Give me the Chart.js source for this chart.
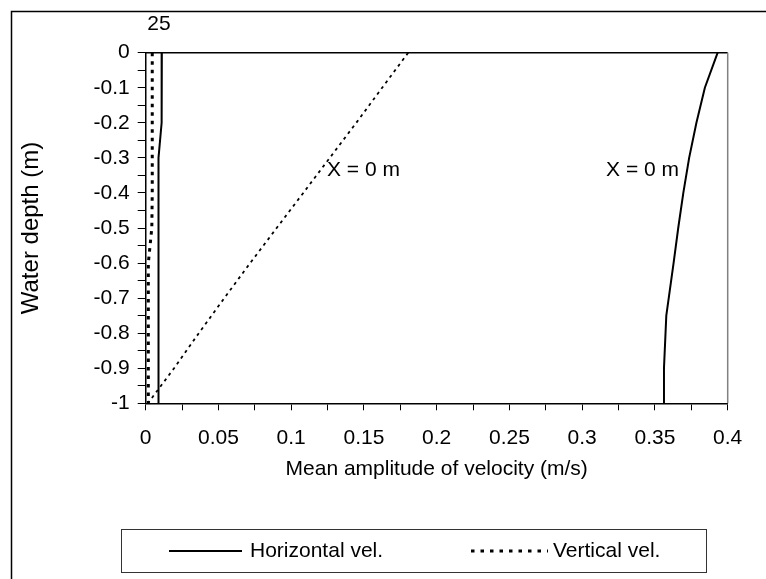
<!DOCTYPE html>
<html>
<head>
<meta charset="utf-8">
<script src="https://cdn.jsdelivr.net/npm/chart.js@4.4.1/dist/chart.umd.min.js"></script>
<style>
  html, body { margin: 0; padding: 0; background: #fff; }
</style>
</head>
<body>
<canvas id="chart" width="766" height="579"></canvas>
<script>
// depth grid (m) and mean amplitudes (m/s)
const depths = [0, -0.1, -0.2, -0.3, -0.4, -0.5, -0.6, -0.7, -0.8, -0.9, -1];
const horiz25 = [0.0111, 0.0111, 0.0108, 0.0088, 0.0088, 0.0088, 0.0088, 0.0088, 0.0088, 0.0088, 0.0088];
const vert25 = [0.0045, 0.0045, 0.0045, 0.0045, 0.0045, 0.0042, 0.0018, 0.0018, 0.0018, 0.0018, 0.0018];
const vert0 = [0.1804, 0.1625, 0.1447, 0.1265, 0.1083, 0.0900, 0.0718, 0.0540, 0.0365, 0.0195, 0.0015];
const depthsH0 = [0, -0.1, -0.2, -0.3, -0.4, -0.5, -0.6, -0.75, -0.9, -1];
const horiz0 = [0.3931, 0.3843, 0.3785, 0.3735, 0.3695, 0.3660, 0.3628, 0.3578, 0.3562, 0.3562];

const xTickLabels = ['0', '0.05', '0.1', '0.15', '0.2', '0.25', '0.3', '0.35', '0.4'];
const yTickLabels = ['-1', '-0.9', '-0.8', '-0.7', '-0.6', '-0.5', '-0.4', '-0.3', '-0.2', '-0.1', '0'];
const legendLabels = ['Horizontal vel.', 'Vertical vel.'];
const notes = [
  { text: 'X = 0 m', x: 0.1246, y: -0.335, align: 'left' },
  { text: 'X = 0 m', x: 0.3164, y: -0.335, align: 'left' },
  { text: '25', x: 0.0091, y: 0.082, align: 'center' }
];

const FONT = 'Liberation Sans, Arial, sans-serif';
const FS = 21;
const pts = (xs, ds) => xs.map((v, i) => ({ x: v, y: ds[i] }));

const extras = {
  id: 'extras',
  afterDraw(chart) {
    const ctx = chart.ctx;
    const a = chart.chartArea;
    const sx = chart.scales.x, sy = chart.scales.y;
    ctx.save();
    // outer frame
    ctx.strokeStyle = '#000';
    ctx.lineWidth = 1.5;
    ctx.beginPath();
    ctx.moveTo(11.5, 579);
    ctx.lineTo(11.5, 11.5);
    ctx.lineTo(766, 11.5);
    ctx.stroke();
    // plot area top and right edges
    ctx.lineWidth = 1.5;
    ctx.beginPath();
    ctx.moveTo(a.left, a.top);
    ctx.lineTo(a.right, a.top);
    ctx.stroke();
    ctx.strokeStyle = '#808080';
    ctx.beginPath();
    ctx.moveTo(a.right, a.top);
    ctx.lineTo(a.right, a.bottom);
    ctx.stroke();

    // text labels
    ctx.fillStyle = '#000';
    ctx.font = FS + 'px ' + FONT;
    ctx.textBaseline = 'middle';
    notes.forEach(n => {
      ctx.textAlign = n.align;
      ctx.fillText(n.text, sx.getPixelForValue(n.x), sy.getPixelForValue(n.y));
    });

    // legend
    const lx = 121.5, ly = 529.5, lw = 585, lh = 43;
    ctx.strokeStyle = '#333';
    ctx.lineWidth = 1;
    ctx.strokeRect(lx, ly, lw, lh);
    const cy = ly + lh / 2;
    ctx.strokeStyle = '#000';
    ctx.lineWidth = 2;
    ctx.beginPath();
    ctx.moveTo(169, cy);
    ctx.lineTo(242, cy);
    ctx.stroke();
    ctx.lineWidth = 3;
    ctx.setLineDash([3.5, 6]);
    ctx.beginPath();
    ctx.moveTo(471, cy);
    ctx.lineTo(548, cy);
    ctx.stroke();
    ctx.setLineDash([]);
    ctx.textAlign = 'left';
    ctx.fillText(legendLabels[0], 250, cy);
    ctx.fillText(legendLabels[1], 553, cy);
    ctx.restore();
  }
};

new Chart(document.getElementById('chart'), {
  type: 'scatter',
  data: {
    datasets: [
      {
        label: 'Horizontal vel. X = 25 m',
        data: pts(horiz25, depths),
        borderColor: '#000',
        borderWidth: 2
      },
      {
        label: 'Vertical vel. X = 25 m',
        data: pts(vert25, depths),
        borderColor: '#000',
        borderWidth: 3,
        borderDash: [3.5, 5]
      },
      {
        label: 'Vertical vel. X = 0 m',
        data: pts(vert0, depths),
        borderColor: '#000',
        borderWidth: 1.8,
        borderDash: [3, 4]
      },
      {
        label: 'Horizontal vel. X = 0 m',
        data: pts(horiz0, depthsH0),
        borderColor: '#000',
        borderWidth: 2
      }
    ]
  },
  options: {
    responsive: false,
    animation: false,
    showLine: true,
    elements: {
      point: { radius: 0 },
      line: { tension: 0, fill: false }
    },
    layout: {
      padding: { left: 13, top: 52.7, right: 38.3, bottom: 93 }
    },
    plugins: {
      legend: { display: false },
      tooltip: { enabled: false }
    },
    scales: {
      x: {
        type: 'linear',
        min: 0,
        max: 0.4,
        afterFit: (s) => { s.height = 82.7; },
        ticks: {
          stepSize: 0.025,
          autoSkip: false,
          maxRotation: 0,
          padding: 15,
          color: '#000',
          font: { family: FONT, size: FS },
          callback: (v, i) => (i % 2 === 0 ? xTickLabels[i / 2] : '')
        },
        grid: { drawOnChartArea: false, tickLength: 7, color: '#000' },
        border: { color: '#000', width: 1.5 },
        title: {
          display: true,
          text: 'Mean amplitude of velocity (m/s)',
          color: '#000',
          font: { family: FONT, size: FS },
          padding: { top: 4, bottom: 4 }
        }
      },
      y: {
        type: 'linear',
        min: -1,
        max: 0,
        afterFit: (s) => { s.width = 132.7; },
        ticks: {
          stepSize: 0.05,
          autoSkip: false,
          padding: 8,
          color: '#000',
          font: { family: FONT, size: FS },
          callback: (v, i) => (i % 2 === 0 ? yTickLabels[i / 2] : '')
        },
        grid: { drawOnChartArea: false, tickLength: 8, color: '#000' },
        border: { color: '#000', width: 1.5 },
        title: {
          display: true,
          text: 'Water depth (m)',
          color: '#000',
          font: { family: FONT, size: 24 },
          padding: { top: 4, bottom: 4 }
        }
      }
    }
  },
  plugins: [extras]
});
</script>
</body>
</html>
